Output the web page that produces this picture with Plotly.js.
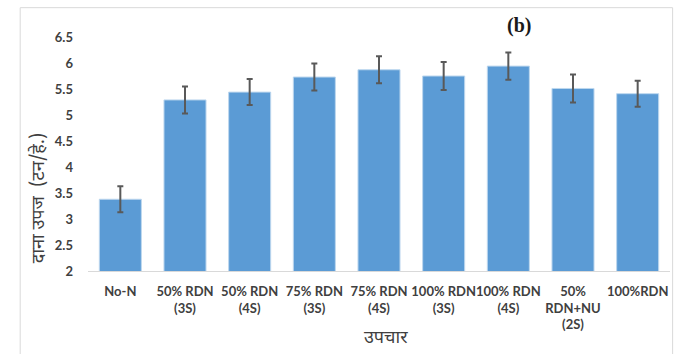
<!DOCTYPE html>
<html>
<head>
<meta charset="utf-8">
<script src="https://cdn.plot.ly/plotly-3.0.1.min.js"></script>
<style>
  html, body { margin: 0; padding: 0; background: #ffffff; }
  #chart { width: 678px; height: 354px; }
</style>
</head>
<body>
<div id="chart"></div>
<script>
// Treatments (x categories)
const treatments = [
  "No-N",
  "50% RDN<br>(3S)",
  "50% RDN<br>(4S)",
  "75% RDN<br>(3S)",
  "75% RDN<br>(4S)",
  "100% RDN<br>(3S)",
  "100% RDN<br>(4S)",
  "50%<br>RDN+NU<br>(2S)",
  "100%RDN"
];

// Grain yield (t/ha)
const grainYield = [3.38, 5.29, 5.44, 5.73, 5.87, 5.75, 5.94, 5.51, 5.41];

// Error bar half-widths
const yieldError = [0.25, 0.26, 0.25, 0.26, 0.26, 0.27, 0.26, 0.27, 0.25];

// Y-axis ticks
const yTicks = [2, 2.5, 3, 3.5, 4, 4.5, 5, 5.5, 6, 6.5];

const hindiFont = '"Noto Sans Devanagari", "Noto Sans", "Lohit Devanagari", sans-serif';
const tickFont = { family: 'Lato, "Open Sans", sans-serif', size: 13, color: '#404040', weight: 700 };

const trace = {
  type: 'bar',
  x: treatments,
  y: grainYield,
  marker: { color: '#5B9BD5', line: { color: '#BDD7EE', width: 1 } },
  error_y: {
    type: 'data',
    array: yieldError,
    visible: true,
    color: '#595959',
    thickness: 2,
    width: 3
  },
  hoverinfo: 'x+y'
};

const layout = {
  width: 678,
  height: 354,
  margin: { l: 88, r: 8, t: 37, b: 83 },
  paper_bgcolor: '#ffffff',
  plot_bgcolor: '#ffffff',
  showlegend: false,
  bargap: 0.35,
  xaxis: {
    type: 'category',
    tickfont: tickFont,
    tickangle: 0,
    showline: true,
    linecolor: '#D9D9D9',
    linewidth: 1,
    ticks: '',
    showgrid: false,
    zeroline: false,
    ticklabelstandoff: 8,
    fixedrange: true
  },
  yaxis: {
    range: [2, 6.5],
    tickvals: yTicks,
    ticktext: yTicks.map(String),
    tickfont: tickFont,
    showline: false,
    showgrid: false,
    zeroline: false,
    ticks: '',
    ticklabelstandoff: 14,
    fixedrange: true
  },
  shapes: [
    {
      type: 'rect', xref: 'paper', yref: 'paper',
      x0: -0.1165, x1: 1.0045, y0: -0.4, y1: 1.1253,
      line: { color: '#D9D9D9', width: 1 },
      fillcolor: 'rgba(0,0,0,0)'
    }
  ],
  annotations: [
    {
      text: '<b>(b)</b>',
      xref: 'paper', yref: 'paper',
      x: 0.74, y: 1.05,
      xanchor: 'center', yanchor: 'middle',
      showarrow: false,
      font: { family: '"Liberation Serif", "DejaVu Serif", serif', size: 20, color: '#1a1a1a' }
    },
    {
      text: 'दाना उपज  (टन/हे.)',
      xref: 'paper', yref: 'paper',
      x: -0.083, y: 0.31,
      xanchor: 'center', yanchor: 'middle',
      textangle: -90,
      showarrow: false,
      font: { family: hindiFont, size: 18, color: '#404040' }
    },
    {
      text: 'उपचार',
      xref: 'paper', yref: 'paper',
      x: 0.512, y: -0.29,
      xanchor: 'center', yanchor: 'middle',
      showarrow: false,
      font: { family: hindiFont, size: 18, color: '#404040' }
    }
  ]
};

Plotly.newPlot('chart', [trace], layout, { displayModeBar: false, staticPlot: true });
</script>
</body>
</html>
